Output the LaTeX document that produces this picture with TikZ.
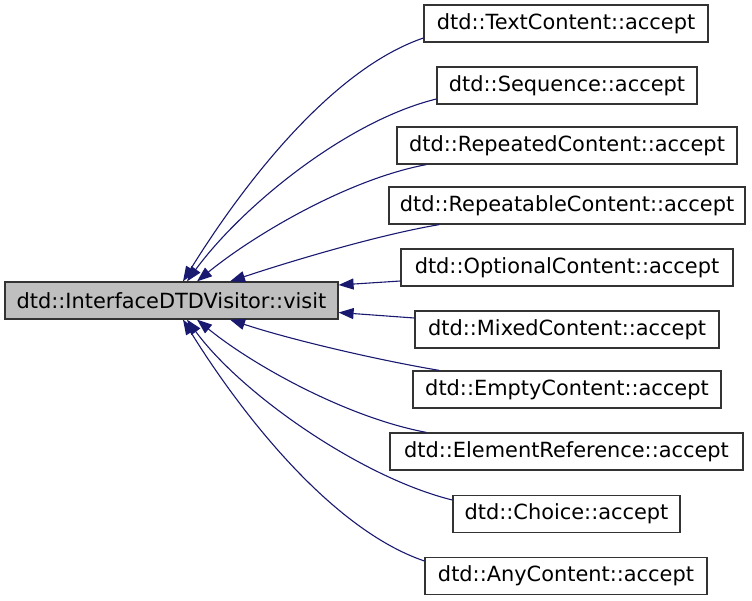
\documentclass[tikz,border=0pt]{standalone}
\usepackage{fontspec}
\setmainfont{DejaVu Sans}
\usetikzlibrary{arrows.meta}
\definecolor{edgeblue}{HTML}{191970}
\definecolor{maingray}{HTML}{BFBFBF}
\tikzset{
  box/.style={draw=black!80, line width=1.2pt, fill=white, inner xsep=0pt, inner ysep=0pt,
    minimum height=37pt, font=\fontsize{20.9}{24}\selectfont, anchor=center},
  mainbox/.style={box, fill=maingray},
  edge/.style={draw=edgeblue, line width=1.1pt, {Triangle[length=15pt,width=11pt]}-}
}
\begin{document}
\begin{tikzpicture}[x=1pt,y=-1pt]
\useasboundingbox (0,0) rectangle (752,600);
\node[mainbox, minimum width=333pt] (main) at (171.5,300.5) {dtd::InterfaceDTDVisitor::visit};
\node[box, minimum width=284pt] (tc) at (566,23.5) {dtd::TextContent::accept};
\node[box, minimum width=260pt] (sq) at (567,85.5) {dtd::Sequence::accept};
\node[box, minimum width=340pt] (rd) at (567,145.5) {dtd::RepeatedContent::accept};
\node[box, minimum width=356pt] (rb) at (567,205.5) {dtd::RepeatableContent::accept};
\node[box, minimum width=332pt] (oc) at (567,267.5) {dtd::OptionalContent::accept};
\node[box, minimum width=304pt] (mc) at (567,329.5) {dtd::MixedContent::accept};
\node[box, minimum width=308pt] (ec) at (567,389.5) {dtd::EmptyContent::accept};
\node[box, minimum width=353pt] (er) at (566.5,451.5) {dtd::ElementReference::accept};
\node[box, minimum width=227pt] (ch) at (566.5,514) {dtd::Choice::accept};
\node[box, minimum width=282pt] (ac) at (566,576) {dtd::AnyContent::accept};

\draw[edge] ([xshift=11.5pt]main.north) .. controls +(57,-92) and +(-94,32) .. ([yshift=-14.5pt]tc.west);
\draw[edge] ([xshift=15.5pt]main.north) .. controls +(55,-75) and +(-90,22) .. ([yshift=-13.5pt]sq.west);
\draw[edge] ([xshift=25.5pt]main.north) .. controls +(55,-45) and +(-80,15) .. ([xshift=30pt]rd.south west);
\draw[edge] ([xshift=58.5pt]main.north) .. controls +(60,-20) and +(-60,10) .. ([xshift=51pt]rb.south west);
\draw[edge] ([yshift=15.5pt]main.east) -- ([yshift=-13.5pt]oc.west);
\draw[edge] ([yshift=-12pt]main.east) -- ([yshift=11.5pt]mc.west);
\draw[edge] ([xshift=58.5pt]main.south) .. controls +(60,20) and +(-60,-10) .. ([xshift=27pt]ec.north west);
\draw[edge] ([xshift=25.5pt]main.south) .. controls +(55,45) and +(-80,-15) .. ([xshift=37pt]er.north west);
\draw[edge] ([xshift=15.5pt]main.south) .. controls +(55,75) and +(-90,-22) .. ([yshift=14pt]ch.west);
\draw[edge] ([xshift=11.5pt]main.south) .. controls +(57,92) and +(-94,-32) .. ([yshift=15pt]ac.west);
\end{tikzpicture}
\end{document}
